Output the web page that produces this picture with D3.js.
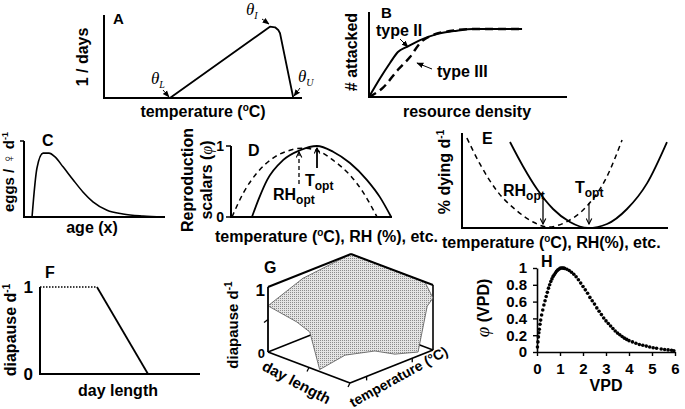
<!DOCTYPE html>
<html><head><meta charset="utf-8">
<script src="https://cdn.jsdelivr.net/npm/d3@7"></script>
<style>
body{margin:0;background:#fff}
svg{display:block}
text{font-family:"Liberation Sans",Arial,sans-serif;font-weight:bold;fill:#000}
.serif{font-family:"Liberation Serif","Times New Roman",serif;font-style:italic;font-weight:normal}
</style></head><body>
<script>
// ---------------- DATA ----------------
// A: development rate vs temperature (relative units)
const devRate = [[33.3,0],[83.8,0.859],[86.4,0.852],[88.0,0.82],[88.9,0.78],[95.6,0]];
// B: functional responses
const typeII  = [[0,0],[5.6,0.22],[10.6,0.4],[14.6,0.53],[19.2,0.59],[25.8,0.67],[34.3,0.74],[44.4,0.78],[52.5,0.80],[77.3,0.80]];
const typeIII = [[0,0],[7.1,0.11],[14.6,0.32],[20.7,0.47],[25.8,0.635],[32.3,0.73],[40.9,0.776],[52.5,0.80],[77.3,0.80]];
// C: age-specific fecundity
const fecundity = [[5.7,0],[9.2,0.645],[13.5,0.84],[17.7,0.84],[22,0.79],[27.7,0.66],[34.8,0.49],[41.8,0.33],[48.9,0.2],[58.9,0.09],[70.2,0.04],[84.4,0.013],[98.6,0]];
// D: reproduction scalars
const reproTemp = [[13,0],[17.5,0.27],[22.4,0.52],[32.3,0.80],[42.9,0.94],[53.4,1.0],[63.4,0.92],[73.9,0.76],[84.5,0.52],[92.5,0.28],[99.5,0]];
const reproRH   = [[0.6,0],[7.7,0.34],[16.1,0.62],[26.1,0.83],[36.6,0.94],[44,0.97],[55.3,0.92],[63.4,0.80],[73.9,0.59],[82,0.35],[90.7,0]];
const dTicks = [0,1];
// E: mortality
const mortTemp = [[23.3,0.905],[29.6,0.65],[36.4,0.41],[44.2,0.2],[52.4,0.063],[61.2,0],[70.4,0.042],[80.1,0.2],[89.8,0.47],[99.5,0.905]];
const mortRH   = [[2.4,0.947],[8.7,0.674],[17,0.39],[26.7,0.18],[34.5,0.063],[41.7,0.01],[50.5,0.063],[60.2,0.22],[70,0.526],[77.7,0.926]];
// F: diapause vs day length
const diapPlateau = [[0,1],[35.6,1]];
const diapDecline = [[35.6,1],[67.5,0]];
const fTicks = [0,1];
// G: diapause surface (dayLength u, temperature v, diapause z), outline
const surface = [[0,0,0.71],[0,0.42,0.92],[0,1,1],[0.9,1,1],[1,1,0.8],[1,0.93,0.71],[1,0.82,0.06],[1,0.54,0.17],[1,0.3,0.34],[0.94,0,0.4],[0.63,0,0.03],[0.51,0,0.55],[0.35,0,0.63]];
const gZTicks = [0,1];
// H: phi(VPD)
const vpd    = [0.02,0.04,0.06,0.08,0.1,0.13,0.16,0.2,0.25,0.3,0.35,0.4,0.45,0.5,0.55,0.6,0.65,0.7,0.75,0.8,0.85,0.9,0.95,1.0,1.05,1.1,1.15,1.2,1.3,1.4,1.5,1.6,1.7,1.8,1.9,2.0,2.1,2.2,2.3,2.4,2.5,2.6,2.7,2.8,2.9,3.0,3.1,3.2,3.3,3.4,3.5,3.6,3.7,3.8,3.9,4.0,4.15,4.3,4.45,4.6,4.75,4.9,5.05,5.2,5.4,5.55,5.7,5.85,5.95];
const phiVPD = [0.06,0.12,0.18,0.23,0.27,0.33,0.38,0.44,0.5,0.56,0.61,0.66,0.71,0.76,0.8,0.84,0.87,0.9,0.92,0.94,0.96,0.975,0.985,0.995,1.0,1.0,0.998,0.995,0.985,0.97,0.95,0.925,0.895,0.86,0.82,0.78,0.74,0.7,0.65,0.61,0.57,0.525,0.485,0.445,0.405,0.37,0.34,0.31,0.28,0.25,0.225,0.205,0.185,0.165,0.15,0.135,0.12,0.105,0.09,0.08,0.07,0.06,0.05,0.045,0.035,0.03,0.025,0.02,0.015];
const hXTicks = [0,1,2,3,4,5,6];
const hYTicks = [0,0.2,0.4,0.6,0.8,1];

// ---------------- DRAW ----------------
const svg = d3.select('body').append('svg').attr('width',685).attr('height',409);
const defs = svg.append('defs');
function marker(id, open){
  const m = defs.append('marker').attr('id',id).attr('viewBox','0 0 10 10').attr('refX',9).attr('refY',5)
    .attr('markerWidth',7).attr('markerHeight',7).attr('orient','auto').attr('markerUnits','userSpaceOnUse');
  if(open) m.append('path').attr('d','M1,1 L9,5 L1,9').attr('fill','none').attr('stroke','#000').attr('stroke-width',1.6);
  else m.append('path').attr('d','M0,1 L10,5 L0,9 Z').attr('fill','#000');
}
marker('ah',false); marker('av',true);
const pat = defs.append('pattern').attr('id','stip').attr('width',2).attr('height',2).attr('patternUnits','userSpaceOnUse');
pat.append('rect').attr('width',2).attr('height',2).attr('fill','#e4e4e4');
pat.append('rect').attr('width',1).attr('height',1).attr('fill','#8c8c8c');

function seg(x1,y1,x2,y2,w,dash,mk){
  const l = svg.append('line').attr('x1',x1).attr('y1',y1).attr('x2',x2).attr('y2',y2)
    .attr('stroke','#000').attr('stroke-width',w||2);
  if(dash) l.attr('stroke-dasharray',dash);
  if(mk) l.attr('marker-end',`url(#${mk})`);
  return l;
}
function txt(x,y,size,anchor,rot){
  const t = svg.append('text').attr('font-size',size).attr('text-anchor',anchor||'start');
  if(rot!=null) t.attr('transform',`translate(${x},${y}) rotate(${rot})`);
  else t.attr('x',x).attr('y',y);
  return t;
}
function sub(t,a,b,size){ t.append('tspan').text(a); t.append('tspan').attr('font-size',size).attr('dy',4).text(b); return t;}
function sup(t,a,b,size){ t.append('tspan').text(a); t.append('tspan').attr('font-size',size).attr('dy',-6).text(b); return t;}
function degC(t,pre,post){ t.append('tspan').text(pre); t.append('tspan').attr('font-size',10).attr('dy',-6).text('o'); t.append('tspan').attr('dy',6).text(post); return t;}
function curve(data,x,y,w,dash,c){
  const p = svg.append('path').attr('d',d3.line().x(d=>x(d[0])).y(d=>y(d[1])).curve(c||d3.curveLinear)(data))
    .attr('fill','none').attr('stroke','#000').attr('stroke-width',w).attr('stroke-linejoin','round');
  if(dash) p.attr('stroke-dasharray',dash);
  return p;
}
function axesL(x,y,w){
  svg.append('path').attr('d',`M${x(x.domain()[0])},${y(y.domain()[1])}V${y(y.domain()[0])}H${x(x.domain()[1])}`)
    .attr('fill','none').attr('stroke','#000').attr('stroke-width',w||2);
}

// ---- A ----
{
  const x=d3.scaleLinear([0,100],[104,302]), y=d3.scaleLinear([0,1],[98,15]);
  axesL(x,y,2);
  curve(devRate,x,y,1.8);
  txt(113,24,15).text('A');
  txt(88,57,16,'middle',-90).text('1 / days');
  degC(txt(203,117,16,'middle'),'temperature (',"C)");
  const tl=txt(151,84,17); tl.attr('class','serif'); sub(tl,'θ','L',10);
  seg(163,90,169,97,1,null,'ah');
  const ti=txt(246,15,17); ti.attr('class','serif'); sub(ti,'θ','I',10);
  seg(262,19,269,24,1,null,'ah');
  const tu=txt(298,82,17); tu.attr('class','serif'); sub(tu,'θ','U',10);
  seg(300,88,294,96,1,null,'ah');
}
// ---- B ----
{
  const x=d3.scaleLinear([0,100],[369,567]), y=d3.scaleLinear([0,1],[97,12]);
  axesL(x,y,2);
  curve(typeII,x,y,2,null,d3.curveMonotoneX);
  curve(typeIII,x,y,2.4,'8,5',d3.curveMonotoneX);
  txt(381,18,15).text('B');
  txt(357,52,16,'middle',-90).text('# attacked');
  txt(467,117,16,'middle').text('resource density');
  txt(376,36,16).text('type II');
  txt(437,77,16).text('type III');
  seg(400,39,408,47,1,null,'ah');
  seg(432,69,417,63,1,null,'ah');
}
// ---- C ----
{
  const x=d3.scaleLinear([0,100],[24,165]), y=d3.scaleLinear([0,1],[217,141]);
  axesL(x,y,2);
  seg(20,141,24,141,1.5);
  curve(fecundity,x,y,1.6,null,d3.curveMonotoneX);
  txt(42,146,16).text('C');
  const t=txt(14,172,15,'middle',-90); t.append('tspan').text('eggs / ♀ '); sup(t,'d','-1',9);
  txt(92,233,16,'middle').text('age (x)');
}
// ---- D ----
{
  const x=d3.scaleLinear([0,100],[231,392]), y=d3.scaleLinear([0,1],[217,146]);
  axesL(x,y,2);
  dTicks.forEach(v=>{ seg(226,y(v),231,y(v),1.5); txt(224,y(v)+5,14,'end').text(v); });
  curve(reproTemp,x,y,1.8,null,d3.curveMonotoneX);
  curve(reproRH,x,y,1.5,'5,4',d3.curveMonotoneX);
  txt(248,156,16).text('D');
  txt(193,180,16,'middle',-90).text('Reproduction');
  const s=txt(212,180,16,'middle',-90); s.append('tspan').text('scalars ('); s.append('tspan').attr('class','serif').text('φ'); s.append('tspan').text(')');
  sub(txt(305,186,16),'T','opt',12);
  sub(txt(273,200,16),'RH','opt',12);
  seg(317,168,317,148,1.8,null,'av');
  seg(299,184,299,152,1.3,'4,3','av');
  degC(txt(215,242,16),'temperature (','C), RH (%), etc.');
}
// ---- E ----
{
  const x=d3.scaleLinear([0,100],[462,668]), y=d3.scaleLinear([0,1],[228,133]);
  axesL(x,y,2);
  curve(mortTemp,x,y,1.8,null,d3.curveMonotoneX);
  curve(mortRH,x,y,1.5,'5,4',d3.curveMonotoneX);
  txt(482,144,16).text('E');
  const t=txt(450,172,16,'middle',-90); t.append('tspan').text('% dying '); sup(t,'d','-1',10);
  sub(txt(503,196,16),'RH','opt',12);
  sub(txt(575,193,16),'T','opt',12);
  seg(543,200,543,224,1.3,null,'av');
  seg(589,203,589,224,1.1,null,'av');
  degC(txt(442,248,16),'temperature (','C), RH(%),  etc.');
}
// ---- F ----
{
  const x=d3.scaleLinear([0,100],[40,200]), y=d3.scaleLinear([0,1],[374,287]);
  axesL(x,y,2);
  fTicks.forEach(v=>txt(33,y(v)+6,17,'end').text(v));
  curve(diapPlateau,x,y,1.5,'1.5,1.5');
  curve(diapDecline,x,y,1.8);
  txt(45,278,16).text('F');
  const t=txt(16,330,16,'middle',-90); t.append('tspan').text('diapause  '); sup(t,'d','-1',10);
  txt(118,396,16,'middle').text('day length');
}
// ---- G ----
{
  const pu=d3.scaleLinear([0,1],[0,82]), puy=d3.scaleLinear([0,1],[0,31]);
  const pv=d3.scaleLinear([0,1],[0,83]), pvy=d3.scaleLinear([0,1],[0,-33]);
  const pz=d3.scaleLinear([0,1],[0,-65]);
  const P=(u,v,z)=>[268+pu(u)+pv(v), 352+puy(u)+pvy(v)+pz(z)];
  const E=(a,b,w)=>{const p=P(...a),q=P(...b); seg(p[0],p[1],q[0],q[1],w||1.6);};
  E([0,0,0],[0,1,0],1.4); E([0,1,0],[1,1,0],1.4);
  E([1,1,0],[1,1,1],1.6);
  svg.append('path').attr('d',d3.line().x(d=>P(...d)[0]).y(d=>P(...d)[1])(surface)+'Z')
    .attr('fill','url(#stip)').attr('stroke','#555').attr('stroke-width',0.8);
  E([0,0,0],[0,0,1],1.8); E([0,0,1],[0,1,1],2); E([0,1,1],[1,1,1],2);
  E([0,0,0],[1,0,0],1.8); E([1,0,0],[1,1,0],1.8);
  [0.5].forEach(z=>{const p=P(0,0,z); seg(p[0]-4,p[1]+3,p[0],p[1],1.3);});
  [0.5,1].forEach(u=>{const p=P(u,0,0); seg(p[0],p[1],p[0]-2,p[1]+4,1.3);});
  [0.2,0.75].forEach(v=>{const p=P(1,v,0); seg(p[0],p[1],p[0],p[1]+4,1.3);});
  gZTicks.forEach(z=>{const p=P(0,0,z); txt(p[0]-3,p[1]+(z?9:6),z?17:13,'end').text(z);});
  txt(264,273,16).text('G');
  const t=txt(238,325,15,'middle',-90); t.append('tspan').text('diapause  '); sup(t,'d','-1',10);
  txt(294,387,15,'middle',28).text('day length');
  txt(401,381,14,'middle',-29).text('temperature (°C)');
}
// ---- H ----
{
  const x=d3.scaleLinear([0,6],[537,675]), y=d3.scaleLinear([0,1],[352,268]);
  const ay=svg.append('g').attr('transform','translate(537,0)')
    .call(d3.axisLeft(y).tickValues(hYTicks).tickSize(4).tickSizeOuter(0).tickPadding(6).tickFormat(d=>String(d)));
  const ax=svg.append('g').attr('transform','translate(0,352)')
    .call(d3.axisBottom(x).tickValues(hXTicks).tickSize(4).tickSizeOuter(0).tickPadding(7).tickFormat(d=>String(d)));
  [ay,ax].forEach(a=>{
    a.select('.domain').attr('stroke','#000').attr('stroke-width',1.6);
    a.selectAll('.tick line').attr('stroke','#000').attr('stroke-width',1.4);
    a.selectAll('.tick text').attr('fill','#7f7f7f').attr('font-size',15).attr('font-weight','bold')
      .attr('font-family','"Liberation Sans",Arial,sans-serif');
  });
  svg.append('g').selectAll('circle').data(d3.zip(vpd,phiVPD)).join('circle')
    .attr('cx',d=>x(d[0])).attr('cy',d=>y(d[1])).attr('r',1.8).attr('fill','#000');
  txt(541,267,16).text('H');
  txt(606,391,16,'middle').text('VPD');
  const t=txt(489,308,16,'middle',-90);
  t.append('tspan').attr('class','serif').attr('font-size',19).text('φ');
  t.append('tspan').text(' (VPD)');
}
</script></body></html>
